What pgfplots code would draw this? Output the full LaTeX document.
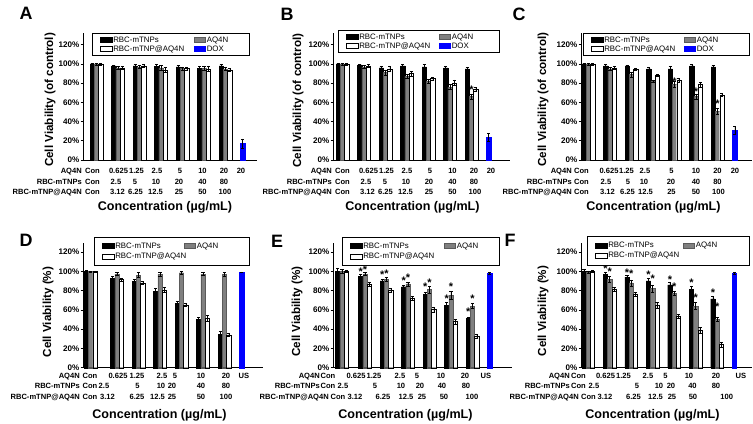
\documentclass[border=0pt]{standalone}
\usepackage{pgfplots}
\pgfplotsset{compat=1.18}
\usepackage{pgfplotstable}
\usepackage{fontspec}
\setmainfont{Liberation Sans}
\definecolor{barGray}{RGB}{128,128,128}
\definecolor{doxBlue}{RGB}{0,0,255}

\newcommand\tabfont{\fontsize{7.6}{8}\selectfont\bfseries}
\newcommand\T[4][]{\node[font=\tabfont,inner sep=0pt,anchor=base,#1] at ({(#2)*1bp},{(424-(#3))*1bp}) {#4};}
\newcommand\LW[2]{\makebox[#1bp][l]{#2}}

\pgfplotsset{
  panel/.style={
    scale only axis, anchor=south west, ymin=0,
    axis x line*=bottom, axis y line*=left,
    axis line style={line width=0.9bp,-},
    xtick=\empty,
    ytick={0,20,40,60,80,100,120},
    yticklabels={0\%,20\%,40\%,60\%,80\%,100\%,120\%},
    yticklabel style={font=\fontsize{8.1}{9}\selectfont\bfseries, inner xsep=1bp},
    tick align=outside, major tick length=2.5bp,
    every tick/.style={black, line width=0.7bp},
    clip=false,
    legend columns=2, legend cell align=left,
    legend style={draw=black, line width=0.6bp, fill=white,
      font=\fontsize{7.9}{8}\selectfont,
      at={(rel axis cs:0,1)}, anchor=north west,
      inner xsep=8bp, inner ysep=2bp, row sep=0bp,
      nodes={inner sep=1bp}},
  },
  bb/.style={ybar, bar width=0.2, bar shift=0, line width=0.4bp,
    legend image code/.code={\draw[##1,line width=0.5bp] (0bp,-2.5bp) rectangle (11.5bp,2.5bp);},
    error bars/y dir=both, error bars/y explicit,
    error bars/error bar style={line width=0.5bp, black, solid},
    error bars/error mark options={rotate=90, mark size=1.6bp, line width=0.5bp, black, solid}},
  barK/.style={bb, fill=black, draw=black},
  barA/.style={bb, fill=barGray, draw=barGray!70!black},
  barW/.style={bb, fill=white, draw=black},
  barB/.style={bb, fill=doxBlue, draw=doxBlue},
  star/.style={only marks, mark=text, text mark={\fontsize{11}{11}\selectfont\bfseries *}, black, forget plot},
  bottomleg/.style={legend style={inner ysep=4.5bp, row sep=1bp}},
}
% black bars sit 0.2 left of the group centre, white bars 0.2 right
\newcommand\Bars[1]{%
\addplot[barK] table[x expr=\thisrow{x}-0.2,y=k,y error=ke]{#1};
\addplot[barA] table[x=x,y=a,y error=ae]{#1};
\addplot[barW] table[x expr=\thisrow{x}+0.2,y=w,y error=we]{#1};
}

\pgfplotstableread{
x k ke a ae w we
0 100 0.8 100 0.8 99.5 0.8
1 98 1.2 96 1.5 96 1.5
2 98 1.5 97 1.5 98 1.5
3 97.5 2 96 2.5 94 3
4 97 1.2 95.5 1.5 95.5 1.5
5 95.5 2 95.5 2.5 95 3
6 98 1.5 95 2 94 1.5
}\dataA
\pgfplotstableread{
x k ke a ae w we
0 100 1 100 1 100 0.8
1 99 0.8 97 1.5 98 1.5
2 96 2 91 3 95 3
3 98 1.5 87 2 90 2.5
4 97 2.5 82 2 85 1.5
5 96 1.5 76 2.5 80.5 3
6 95 2 66 3 74 2
}\dataB
\pgfplotstableread{
x k ke a ae w we
0 100 1 100 1 100 0.8
1 98 1.5 95 2 96 1.5
2 98 1 89 2.5 94.5 1.5
3 95 2 82 1.5 88.5 1
4 95 2.5 79 3 83.5 2
5 98 1.5 66 3 78.5 3
6 97 1.5 51 3 68 1.5
}\dataC
\pgfplotstableread{
x k ke a ae w we
-0.22 100 1 100 0.5 100 0.5
1 93 1.5 97 1.5 91.5 1.5
2 89.5 2 96 2.5 88 1.5
3 79.5 3 97 2 80.5 2.5
4 67 2 98.5 1.5 65 1.5
5 50 2.5 97 1.5 51 3
6 34.5 3 97 2 34 1.5
}\dataD
\pgfplotstableread{
x k ke a ae w we
-0.07 100 3 100 2 100 0.8
1 95 1.5 97 1.5 87 2
2 90 1.5 92 2 80.5 2
3 84 1.5 87 2 72 2
4 76 2.5 81 4 60.5 2.5
5 65 3 75 4 48 2.5
6 51 1.5 64 2.5 33 2
}\dataE
\pgfplotstableread{
x k ke a ae w we
0 100 2.5 99 1.5 100 0.8
1 97 1.5 92 3 81.5 2
2 94 1.5 88 3 76 2
3 90 3 82 3.5 65 3
4 86 3 77 2 53.5 2
5 81.5 3.5 64 3.5 38.5 3
6 71.5 3 50 2 24 2.5
}\dataF

\begin{document}
\begin{tikzpicture}
\path[use as bounding box] (0,0) rectangle (753bp,424bp);

% ---------------- A ----------------
\begin{axis}[panel, at={(83bp,264bp)}, width=174bp, height=126.72bp,
  xmin=-0.628, xmax=7.465, ymax=132, legend style={xshift=9bp}]
\Bars{\dataA}
\addplot[barB] coordinates {(6.8,17) +- (0,5)};
\legend{\LW{79.5}{RBC-mTNPs},\LW{33.5}{AQ4N},\LW{79.5}{RBC-mTNP@AQ4N},\LW{33.5}{DOX}}
\end{axis}

% ---------------- B ----------------
\begin{axis}[panel, at={(333bp,264bp)}, width=177bp, height=126.72bp,
  xmin=-0.442, xmax=7.79, ymax=132, legend style={xshift=5bp,yshift=3bp}]
\Bars{\dataB}
\addplot[barB] coordinates {(6.8,24) +- (0,4)};
\addplot[star] coordinates {(6,73)};
\legend{\LW{78.5}{RBC-mTNPs},\LW{38.5}{AQ4N},\LW{78.5}{RBC-mTNP@AQ4N},\LW{38.5}{DOX}}
\end{axis}

% ---------------- C ----------------
\begin{axis}[panel, at={(581bp,264bp)}, width=171bp, height=126.72bp,
  xmin=-0.349, xmax=7.6, ymax=132, legend style={xshift=2bp}]
\Bars{\dataC}
\addplot[barB] coordinates {(6.8,31) +- (0,4)};
\addplot[star] coordinates {(4,82) (5,71.5) (6,58.5)};
\legend{\LW{78.5}{RBC-mTNPs},\LW{43.5}{AQ4N},\LW{78.5}{RBC-mTNP@AQ4N},\LW{43.5}{DOX}}
\end{axis}

% ---------------- D ----------------
\begin{axis}[panel, bottomleg, at={(83bp,56.3bp)}, width=180bp, height=124.36bp,
  xmin=-0.581, xmax=7.79, ymax=129, legend style={xshift=11bp,yshift=6.4bp}]
\Bars{\dataD}
\addplot[barB, forget plot] coordinates {(6.8,99) +- (0,0.5)};
\addlegendimage{empty legend}
\legend{\LW{67.5}{RBC-mTNPs},\LW{43.5}{AQ4N},\LW{67.5}{RBC-mTNP@AQ4N},\LW{43.5}{}}
\end{axis}

% ---------------- E ----------------
\begin{axis}[panel, bottomleg, at={(333bp,56.3bp)}, width=179bp, height=124.36bp,
  xmin=-0.488, xmax=7.84, ymax=129, legend style={xshift=9bp,yshift=6.4bp}]
\Bars{\dataE}
\addplot[barB, forget plot] coordinates {(6.8,98) +- (0,0.8)};
\addplot[star] coordinates {(0.8,100) (1,102) (1.8,96) (2,97) (2.8,89.8) (3,93)
  (3.8,83.9) (4,88.6) (4.8,71.9) (5,84) (5.8,57.7) (6,71.9)};
\addlegendimage{empty legend}
\legend{\LW{79.5}{RBC-mTNPs},\LW{33.5}{AQ4N},\LW{79.5}{RBC-mTNP@AQ4N},\LW{33.5}{}}
\end{axis}

% ---------------- F ----------------
\begin{axis}[panel, bottomleg, at={(581bp,56.3bp)}, width=171bp, height=124.36bp,
  xmin=-0.335, xmax=7.62, ymax=129, legend style={xshift=6bp,yshift=7bp}]
\Bars{\dataF}
\addplot[barB, forget plot] coordinates {(6.8,98) +- (0,0.8)};
\addplot[star] coordinates {(0.8,102.8) (1,100) (1.8,98.7) (2,97) (2.8,96) (3,92.6)
  (3.8,91.6) (4,84) (4.8,88.5) (5,72.4) (5.8,78.2) (6,63)};
\addlegendimage{empty legend}
\legend{\LW{73.5}{RBC-mTNPs},\LW{44.5}{AQ4N},\LW{73.5}{RBC-mTNP@AQ4N},\LW{44.5}{}}
\end{axis}

% ---------------- panel letters ----------------
\begin{scope}[every node/.style={font=\fontsize{18}{18}\selectfont\bfseries, inner sep=0pt, anchor=center}]
\node at (26bp,{(424-13.5)*1bp}) {A};
\node at (287bp,{(424-14)*1bp}) {B};
\node at (519bp,{(424-14)*1bp}) {C};
\node at (26bp,{(424-240.5)*1bp}) {D};
\node at (277bp,{(424-241)*1bp}) {E};
\node at (510bp,{(424-240)*1bp}) {F};
\end{scope}

% ---------------- y labels ----------------
\begin{scope}[every node/.style={font=\fontsize{11.7}{12}\selectfont\bfseries, inner sep=0pt, anchor=center, rotate=90}]
\node at (50bp,{(424-100)*1bp}) {Cell Viability (of control)};
\node at (298bp,{(424-100.5)*1bp}) {Cell Viability (of control)};
\node at (543bp,{(424-99.5)*1bp}) {Cell Viability (of control)};
\node at (48bp,{(424-312)*1bp}) {Cell Viability (\%)};
\node at (297bp,{(424-311.5)*1bp}) {Cell Viability (\%)};
\node at (543bp,{(424-311)*1bp}) {Cell Viability (\%)};
\end{scope}

% ---------------- x labels ----------------
\begin{scope}[every node/.style={font=\fontsize{12.6}{13}\selectfont\bfseries, inner sep=0pt, anchor=base}]
\node at (165bp,{(424-210)*1bp}) {Concentration (µg/mL)};
\node at (412.5bp,{(424-210)*1bp}) {Concentration (µg/mL)};
\node at (653.5bp,{(424-210)*1bp}) {Concentration (µg/mL)};
\node at (159.5bp,{(424-418)*1bp}) {Concentration (µg/mL)};
\node at (405.5bp,{(424-418)*1bp}) {Concentration (µg/mL)};
\node at (652.5bp,{(424-418)*1bp}) {Concentration (µg/mL)};
\end{scope}

% ---------------- concentration tables, top row ----------------
\foreach \o in {0,250}{
  \T[anchor=base east]{\o+82}{173.5}{AQ4N}
  \T[anchor=base east]{\o+82}{184}{RBC-mTNPs}
  \T[anchor=base east]{\o+82}{194.5}{RBC-mTNP@AQ4N}
  \T{\o+92.5}{173.5}{Con}\T{\o+118.5}{173.5}{0.625}\T{\o+136.5}{173.5}{1.25}\T{\o+157}{173.5}{2.5}
  \T{\o+180}{173.5}{5}\T{\o+202.5}{173.5}{10}\T{\o+224}{173.5}{20}\T{\o+241}{173.5}{20}
  \T{\o+92.5}{184}{Con}\T{\o+116}{184}{2.5}\T{\o+135}{184}{5}\T{\o+156}{184}{10}
  \T{\o+179}{184}{20}\T{\o+202.5}{184}{40}\T{\o+224}{184}{80}
  \T{\o+92.5}{194.5}{Con}\T{\o+117.5}{194.5}{3.12}\T{\o+135.5}{194.5}{6.25}\T{\o+155.5}{194.5}{12.5}
  \T{\o+179}{194.5}{25}\T{\o+202.5}{194.5}{50}\T{\o+225}{194.5}{100}
}
% C
\T[anchor=base east]{572}{173.5}{AQ4N}
\T[anchor=base east]{572}{184}{RBC-mTNPs}
\T[anchor=base east]{572}{194.5}{RBC-mTNP@AQ4N}
\T{581.5}{173.5}{Con}\T{609}{173.5}{0.625}\T{626.5}{173.5}{1.25}\T{645}{173.5}{2.5}
\T{671.5}{173.5}{5}\T{696}{173.5}{10}\T{717.5}{173.5}{20}\T{735}{173.5}{20}
\T{581.5}{184}{Con}\T{606}{184}{2.5}\T{628}{184}{5}\T{644}{184}{10}
\T{671}{184}{20}\T{696}{184}{40}\T{717.5}{184}{80}
\T{581.5}{194.5}{Con}\T{607.5}{194.5}{3.12}\T{627.5}{194.5}{6.25}\T{645.5}{194.5}{12.5}
\T{671.5}{194.5}{25}\T{696}{194.5}{50}\T{718.5}{194.5}{100}

% ---------------- concentration tables, bottom row ----------------
% D
\T[anchor=base east]{80}{378.5}{AQ4N}
\T[anchor=base east]{80}{388.5}{RBC-mTNPs}
\T[anchor=base east]{80}{399}{RBC-mTNP@AQ4N}
\T{90}{378.5}{Con}\T{118}{378.5}{0.625}\T{137}{378.5}{1.25}\T{162}{378.5}{2.5}
\T{175}{378.5}{5}\T{201}{378.5}{10}\T{226}{378.5}{20}\T{244}{378.5}{US}
\T{90}{388.5}{Con}\T{104}{388.5}{2.5}\T{137.5}{388.5}{5}\T{161}{388.5}{10}
\T{172}{388.5}{20}\T{201}{388.5}{40}\T{226}{388.5}{80}
\T{90}{399}{Con}\T{107.5}{399}{3.12}\T{137}{399}{6.25}\T{157.5}{399}{12.5}
\T{172}{399}{25}\T{201}{399}{50}\T{226}{399}{100}
% E
\T[anchor=base east]{320}{378.5}{AQ4N}
\T[anchor=base east]{320}{388.5}{RBC-mTNPs}
\T[anchor=base east]{329}{399}{RBC-mTNP@AQ4N}
\T{328}{378.5}{Con}\T{356}{378.5}{0.625}\T{374}{378.5}{1.25}\T{400}{378.5}{2.5}
\T{417}{378.5}{5}\T{441}{378.5}{10}\T{465}{378.5}{20}\T{486}{378.5}{US}
\T{328}{388.5}{Con}\T{343}{388.5}{2.5}\T{375}{388.5}{5}\T{401}{388.5}{10}
\T{420}{388.5}{20}\T{442}{388.5}{40}\T{466}{388.5}{80}
\T{338}{399}{Con}\T{355}{399}{3.12}\T{383}{399}{6.25}\T{406}{399}{12.5}
\T{422}{399}{25}\T{444}{399}{50}\T{472}{399}{100}
% F
\T[anchor=base east]{570}{378.5}{AQ4N}
\T[anchor=base east]{570}{388.5}{RBC-mTNPs}
\T[anchor=base east]{579}{399}{RBC-mTNP@AQ4N}
\T{578.5}{378.5}{Con}\T{605.5}{378.5}{0.625}\T{623.5}{378.5}{1.25}\T{648}{378.5}{2.5}
\T{665.5}{378.5}{5}\T{689}{378.5}{10}\T{716}{378.5}{20}\T{741}{378.5}{US}
\T{578.5}{388.5}{Con}\T{594}{388.5}{2.5}\T{637}{388.5}{5}\T{659}{388.5}{10}
\T{671}{388.5}{20}\T{692.5}{388.5}{40}\T{716}{388.5}{80}
\T{588.5}{399}{Con}\T{605}{399}{3.12}\T{633.5}{399}{6.25}\T{655.5}{399}{12.5}
\T{672}{399}{25}\T{693}{399}{50}\T{726.7}{399}{100}
\end{tikzpicture}
\end{document}
